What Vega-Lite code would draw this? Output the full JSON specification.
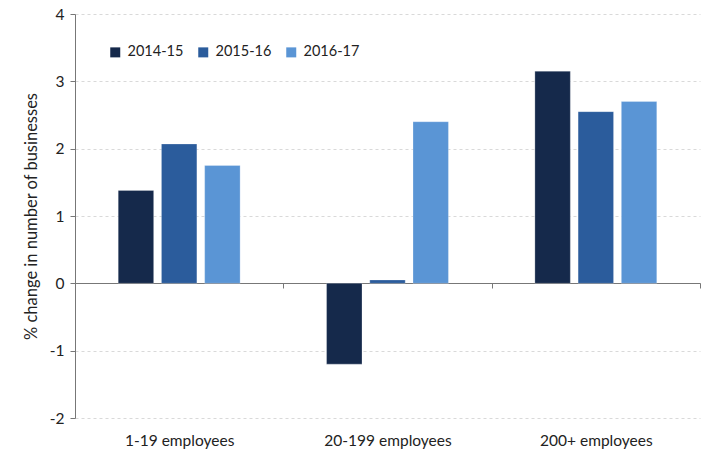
{
  "$schema": "https://vega.github.io/schema/vega-lite/v6.json",
  "autosize": "none",
  "width": 625,
  "height": 404,
  "padding": {"left": 75, "top": 14, "right": 4, "bottom": 32},
  "background": "white",
  "config": {"font": "Lato", "view": {"stroke": null}},
  "data": {"values": [
    {"size": "1-19 employees", "year": "2014-15", "value": 1.38},
    {"size": "1-19 employees", "year": "2015-16", "value": 2.07},
    {"size": "1-19 employees", "year": "2016-17", "value": 1.75},
    {"size": "20-199 employees", "year": "2014-15", "value": -1.2},
    {"size": "20-199 employees", "year": "2015-16", "value": 0.05},
    {"size": "20-199 employees", "year": "2016-17", "value": 2.4},
    {"size": "200+ employees", "year": "2014-15", "value": 3.15},
    {"size": "200+ employees", "year": "2015-16", "value": 2.55},
    {"size": "200+ employees", "year": "2016-17", "value": 2.7}
  ]},
  "mark": {"type": "bar", "stroke": "#ffffff", "strokeOpacity": 0.5, "strokeWidth": 0.5},
  "encoding": {
    "x": {
      "field": "size", "type": "nominal", "sort": null,
      "scale": {"paddingInner": 0, "paddingOuter": 0},
      "axis": {
        "title": null, "orient": "bottom", "offset": -135,
        "labelAngle": 0, "labelFontSize": 15.5, "labelColor": "#222",
        "labelPadding": 145, "domainColor": "#777", "domainWidth": 1.2,
        "tickBand": "extent", "tickColor": "#777", "tickSize": 5
      }
    },
    "xOffset": {
      "field": "year", "type": "nominal",
      "scale": {"paddingInner": 0.18, "paddingOuter": 1.05}
    },
    "y": {
      "field": "value", "type": "quantitative",
      "scale": {"domain": [-2, 4], "nice": false},
      "axis": {
        "values": [-2, -1, 0, 1, 2, 3, 4],
        "labelExpr": "'' + datum.value",
        "title": "% change in number of businesses",
        "titleFontSize": 16.5, "titleFontWeight": "normal", "titleColor": "#222",
        "titlePadding": 10,
        "labelFontSize": 15.5, "labelColor": "#222", "labelPadding": 6,
        "domainColor": "#777", "tickColor": "#777", "tickSize": 5,
        "grid": true, "gridDash": [3, 3], "gridColor": "#d9d9d9"
      }
    },
    "color": {
      "field": "year", "type": "nominal",
      "scale": {"domain": ["2014-15", "2015-16", "2016-17"], "range": ["#15294b", "#2b5c9c", "#5a95d5"]},
      "legend": {
        "title": null, "orient": "none", "legendX": 33, "legendY": 31,
        "direction": "horizontal", "columns": 3, "columnPadding": 12,
        "symbolType": "square", "symbolSize": 100, "symbolStrokeWidth": 0,
        "labelFontSize": 14.5, "labelColor": "#222", "labelOffset": 5
      }
    }
  }
}
